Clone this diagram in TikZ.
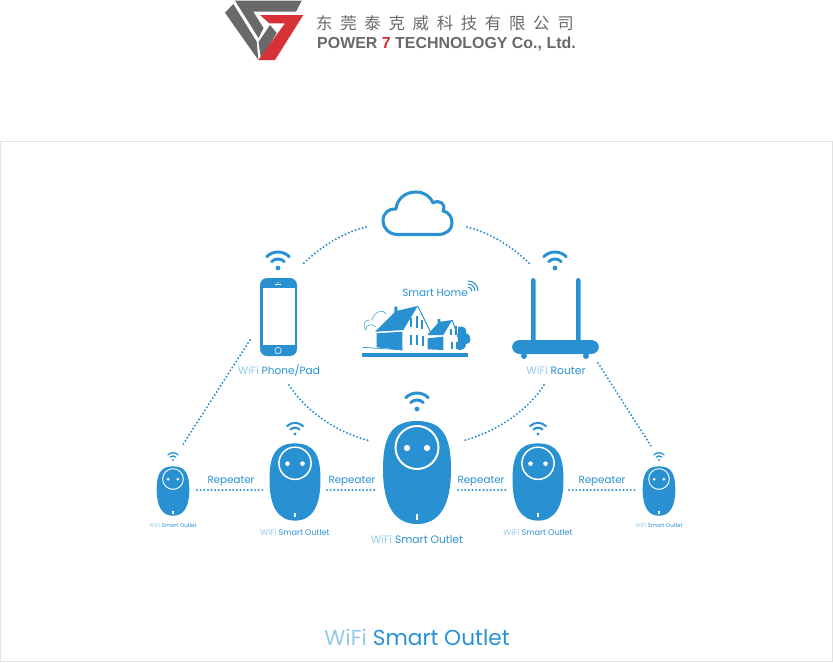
\documentclass[tikz,border=0pt]{standalone}
\usepackage{fontspec}
\setmainfont{Poppins}
\newfontfamily\cjkfont[LetterSpace=47]{Noto Sans CJK SC}
\newfontfamily\logofont{Liberation Sans}
\usepackage{xcolor}
\usetikzlibrary{calc,positioning}
\definecolor{azulBox}{RGB}{41,145,210}
\definecolor{azulSoft}{RGB}{150,200,232}
\definecolor{grisLogo}{RGB}{105,105,105}
\definecolor{rojoLogo}{RGB}{215,50,55}
\definecolor{grisFrame}{RGB}{225,225,225}
\tikzset{
  wifiarc/.style={azulBox, line width=2.5pt*#1, line cap=round},
  linkdots/.style={azulBox, line width=1.9pt, line cap=round, dash pattern=on 0pt off 3.1pt},
  outletlabel/.style={azulBox, inner sep=0pt},
  repeaterlabel/.style={azulBox, inner sep=0pt}
}
% x y in pixels of the reference, y going down
\newcommand{\wifimark}[3]{% x, y of the dot, size
  \fill[azulBox] (#1,#2) circle ({2.4*#3});
  \draw[wifiarc=#3] ($(#1,#2)+(-{6.4*#3},{-6.4*#3})$) arc[start angle=135, end angle=45, radius={9*#3}, y radius={-9*#3}];
  \draw[wifiarc=#3] ($(#1,#2)+(-{11.3*#3},{-11.3*#3})$) arc[start angle=135, end angle=45, radius={16*#3}, y radius={-16*#3}];
}
\newcommand{\outletshape}[3]{% x, y of the centre, size
  \begin{scope}[shift={(#1,#2)}, x=0.03cm*#3, y=-0.03cm*#3]
    \fill[azulBox] (0,-51.5) .. controls (27,-51.5) and (34,-34) .. (34,-3)
      .. controls (34,32) and (23,51.5) .. (0,51.5)
      .. controls (-23,51.5) and (-34,32) .. (-34,-3)
      .. controls (-34,-34) and (-27,-51.5) .. (0,-51.5) -- cycle;
    \draw[white, line width=1.7pt*#3] (0,-25) circle (21.5);
    \fill[white] (-10,-24.5) circle (3.1) (10,-24.5) circle (3.1);
    \fill[white] (-1.3,41) rectangle (1.3,47);
  \end{scope}
}
\begin{document}
\begin{tikzpicture}[x=0.03cm, y=-0.03cm]
  \useasboundingbox (0,0) rectangle (833,662);
  % Logo
  \fill[grisLogo] (225,12.7) -- (233.3,4) -- (256.7,41.7) -- (258.3,60) -- cycle;
  \fill[grisLogo] (235,0.7) -- (301.7,0.7) -- (296,11.7) -- (253.3,11.7) -- (263.5,28) -- (258.5,38) -- cycle;
  \fill[grisLogo] (258.5,42) -- (270,25) -- (276.7,33) -- (261,59) -- cycle;
  \fill[rojoLogo] (260,15) -- (303.3,15) -- (275,60) -- (258.3,60) -- (285,23.3) -- (269.3,23.3) -- cycle;
  \node[font=\cjkfont\fontsize{14}{16}\selectfont, text=grisLogo, anchor=west, inner sep=0pt] (logoCn) at (316,23)
    {东莞泰克威科技有限公司};
  \node[font=\logofont\bfseries\fontsize{13.6}{15}\selectfont, text=grisLogo, anchor=west, inner sep=0pt] (logoEn) at (317,44)
    {POWER \textcolor{rojoLogo}{7} TECHNOLOGY Co., Ltd.};
  % Frame
  \draw[grisFrame, line width=0.6pt] (0.5,141.5) rectangle (832.5,661.5);
  % Cloud
  \draw[azulBox, line width=2.6pt, line join=round] (398,234.5)
    .. controls (389,234.5) and (383,228) .. (383,221)
    .. controls (383,213) and (389,208) .. (396,209)
    .. controls (397,199) and (405,192) .. (416,192)
    .. controls (424,192) and (430,196) .. (433,203)
    .. controls (439,199) and (447,204) .. (443,211)
    .. controls (449,212) and (452,217) .. (452,223)
    .. controls (452,230) and (446,234.5) .. (438,234.5) -- cycle;
  % Phone
  \fill[azulBox] (260,278) [rounded corners=6pt] rectangle (297,356);
  \fill[white] (262.5,288) rectangle (294.5,345);
  \draw[white, line width=0.5pt] (275,284.5) -- (281,284.5);
  \fill[white] (278,282.5) circle (0.7);
  \draw[white, line width=0.5pt] (278,350.5) circle (3.2);
  \node[font=\fontsize{9}{11}\selectfont, inner sep=0pt] (phoneLabel) at (279,370)
    {\textcolor{azulSoft}{WiFi} \textcolor{azulBox}{Phone/Pad}};
  % Router
  \fill[azulBox] (531,278) [rounded corners=2pt] rectangle (535.5,345);
  \fill[azulBox] (576,278) [rounded corners=2pt] rectangle (580.5,345);
  \fill[azulBox] (512,340) [rounded corners=6.5pt] rectangle (599,354);
  \fill[azulBox] (524,356) circle (3) (586,356) circle (3);
  \node[font=\fontsize{9.2}{11}\selectfont, inner sep=0pt] (routerLabel) at (556,370)
    {\textcolor{azulSoft}{WiFi} \textcolor{azulBox}{Router}};
  % House
  \node[font=\fontsize{8.9}{11}\selectfont, text=azulBox, inner sep=0pt] (homeLabel) at (435,293) {Smart Home};
  \foreach \rad in {4,7,10}
    \draw[azulBox, line width=0.9pt] (468,291)++(0,-\rad) arc[start angle=90, end angle=0, radius=\rad, y radius=-\rad];
  \draw[azulBox, line width=0.4pt] (366,330) .. controls (361,325) and (366,318) .. (372,320)
    .. controls (374,311) and (384,309) .. (386,314) (366,330) .. controls (364,326) and (372,322) .. (376,327);
  \fill[azulBox] (375,331.7) -- (394.3,312.7) -- (394.3,306.7) -- (397.3,306.7) -- (397.3,310.7) -- (417.7,306) -- (403.3,330) -- cycle;
  \fill[azulBox] (376.7,333.3) -- (402.3,331.7) -- (402.3,350) -- (376.7,347.3) -- cycle;
  \fill[azulBox] (427.3,335) -- (437.7,323.3) -- (437.7,319) -- (440.3,319) -- (440.3,321.7) -- (452.3,320) -- (443.3,335) -- cycle;
  \fill[azulBox] (427.7,338.3) -- (443.3,336.7) -- (443.3,350) -- (427.7,349.3) -- cycle;
  \fill[azulBox] (458,327) .. controls (464,325) and (467,329) .. (466,333)
    .. controls (472,334) and (472,345) .. (466,344) .. controls (466,349) and (462,350) .. (458,350) -- cycle;
  \draw[azulBox, line width=0.8pt] (417.7,306) -- (431,333);
  \draw[azulBox, line width=0.8pt] (452.3,320) -- (462,349);
  \foreach \xa/\ya/\yb in {410/318/327,416/316/328,421/320/329,410/335/345,416/335/345,422/336/346,450/329/335,455/326/335,451/342/349,456/342/349}
    \fill[azulBox] (\xa,\ya) rectangle (\xa+2.4,\yb);
  \draw[azulBox, line width=0.6pt] (362.3,347.3) -- (403.3,350);
  \fill[azulBox] (362.3,353.3) -- (467.7,353.3) -- (467.7,356.7) -- (362.3,356.7) -- cycle;
  % Outlets
  \outletshape{173}{491}{0.48}
  \outletshape{295}{482}{0.75}
  \outletshape{417}{472.5}{1}
  \outletshape{538}{482}{0.75}
  \outletshape{659}{491}{0.48}
  % Wifi marks
  \wifimark{278}{268}{1}
  \wifimark{555}{268}{1}
  \wifimark{417}{409}{1}
  \wifimark{295}{434}{0.7}
  \wifimark{538}{434}{0.7}
  \wifimark{173}{460}{0.45}
  \wifimark{659}{460}{0.45}
  % Outlet labels
  \node[outletlabel, font=\fontsize{4.7}{6}\selectfont] (outletA) at (173,525)
    {\textcolor{azulSoft}{WiFi} Smart Outlet};
  \node[outletlabel, font=\fontsize{6.9}{8}\selectfont] (outletB) at (295,532)
    {\textcolor{azulSoft}{WiFi} Smart Outlet};
  \node[outletlabel, font=\fontsize{9.2}{11}\selectfont] (outletC) at (417,539)
    {\textcolor{azulSoft}{WiFi} Smart Outlet};
  \node[outletlabel, font=\fontsize{6.9}{8}\selectfont] (outletD) at (538,532)
    {\textcolor{azulSoft}{WiFi} Smart Outlet};
  \node[outletlabel, font=\fontsize{4.7}{6}\selectfont] (outletE) at (659,525)
    {\textcolor{azulSoft}{WiFi} Smart Outlet};
  % Repeater labels
  \node[repeaterlabel, font=\fontsize{8.8}{10}\selectfont] (repA) at (231,481) {Repeater};
  \node[repeaterlabel, font=\fontsize{8.8}{10}\selectfont] (repB) at (352,481) {Repeater};
  \node[repeaterlabel, font=\fontsize{8.8}{10}\selectfont] (repC) at (481,481) {Repeater};
  \node[repeaterlabel, font=\fontsize{8.8}{10}\selectfont] (repD) at (602,481) {Repeater};
  % Title
  \node[font=\fontsize{18.5}{22}\selectfont, inner sep=0pt] (title) at (417,637)
    {\textcolor{azulSoft}{WiFi} \textcolor{azulBox}{Smart Outlet}};
  % Link ends
  \coordinate (cloudL) at (366,227);
  \coordinate (cloudR) at (467,227);
  \coordinate (phoneT) at (302,265);
  \coordinate (routerT) at (531,265);
  \coordinate (phoneL) at (250,340);
  \coordinate (smallA) at (182,446);
  \coordinate (routerR) at (598,363);
  \coordinate (smallE) at (651,446);
  \coordinate (phoneB) at (289,385);
  \coordinate (bigL) at (370,441);
  \coordinate (routerB) at (544,385);
  \coordinate (bigR) at (462,441);
  \coordinate (repA1) at (197,490);
  \coordinate (repA2) at (265,490);
  \coordinate (repB1) at (327,490);
  \coordinate (repB2) at (376,490);
  \coordinate (repC1) at (458,490);
  \coordinate (repC2) at (506,490);
  \coordinate (repD1) at (569,490);
  \coordinate (repD2) at (636,490);
  % Dotted links
  \draw[linkdots] (cloudL) .. controls (342,233) and (320,247) .. (phoneT);
  \draw[linkdots] (cloudR) .. controls (491,233) and (513,247) .. (routerT);
  \draw[linkdots] (phoneL) -- (smallA);
  \draw[linkdots] (routerR) -- (smallE);
  \draw[linkdots] (phoneB) .. controls (305,410) and (335,432) .. (bigL);
  \draw[linkdots] (routerB) .. controls (528,410) and (497,432) .. (bigR);
  \draw[linkdots] (repA1) -- (repA2);
  \draw[linkdots] (repB1) -- (repB2);
  \draw[linkdots] (repC1) -- (repC2);
  \draw[linkdots] (repD1) -- (repD2);
\end{tikzpicture}
\end{document}
